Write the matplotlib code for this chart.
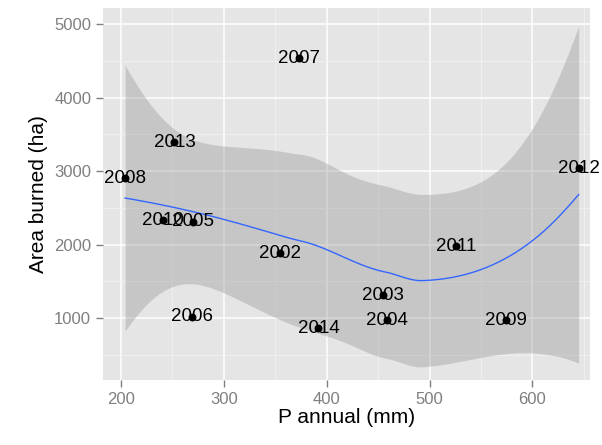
import numpy as np
import matplotlib
matplotlib.use('Agg')
import matplotlib.pyplot as plt
from math import lgamma

# Data
years = ['2008', '2013', '2007', '2010', '2005', '2002', '2006',
         '2014', '2003', '2004', '2011', '2009', '2012']
p_annual = [204, 252, 373, 241, 270, 355, 269, 392, 455, 459, 526, 574, 645]
area_burned = [2905, 3395, 4533, 2333, 2310, 1880, 1018, 860, 1313, 973, 1980, 973, 3037]

plt.rcParams['font.family'] = ['Liberation Sans', 'DejaVu Sans']

x = np.array(p_annual, dtype=float)
y = np.array(area_burned, dtype=float)
n = len(x)
SPAN = 1.0


def local_fit(x0):
    # local quadratic, tricube weights; returns rows for value and slope
    d = np.abs(x - x0)
    h = d.max() * SPAN * 1.0000001
    w = (1 - np.clip(d / h, 0, 1) ** 3) ** 3
    X = np.column_stack([np.ones(n), x - x0, (x - x0) ** 2])
    W = np.diag(w)
    A = np.linalg.pinv(X.T @ W @ X) @ X.T @ W
    return A[0], A[1]


# kd-tree style vertices + cubic Hermite interpolation (like loess surface='interpolate')
xs = np.sort(x)
fc = int(np.floor(n * SPAN * 0.2))
pad = 0.005 * (xs[-1] - xs[0])
verts = [xs[0] - pad, xs[-1] + pad]


def split(l, u):
    if u - l + 1 <= fc:
        return
    m = (l + u) // 2
    verts.append((xs[m] + xs[m + 1]) / 2)
    split(l, m)
    split(m + 1, u)


split(0, n - 1)
verts = np.array(sorted(verts))
vrows = [local_fit(v) for v in verts]


def interp_row(x0):
    i = min(max(np.searchsorted(verts, x0) - 1, 0), len(verts) - 2)
    v0, v1 = verts[i], verts[i + 1]
    dx = v1 - v0
    t = (x0 - v0) / dx
    h00 = 2 * t ** 3 - 3 * t ** 2 + 1
    h10 = t ** 3 - 2 * t ** 2 + t
    h01 = -2 * t ** 3 + 3 * t ** 2
    h11 = t ** 3 - t ** 2
    (a0, s0), (a1, s1) = vrows[i], vrows[i + 1]
    return h00 * a0 + h10 * dx * s0 + h01 * a1 + h11 * dx * s1


L = np.array([interp_row(v) for v in x])
IL = np.eye(n) - L
M = IL.T @ IL
one_delta = np.trace(M)
two_delta = np.trace(M @ M)
sigma = np.sqrt(np.sum((y - L @ y) ** 2) / one_delta)
df = one_delta ** 2 / two_delta


def t_quantile(p, nu):
    t = np.linspace(0, 20, 200001)
    c = np.exp(lgamma((nu + 1) / 2) - lgamma(nu / 2)) / np.sqrt(nu * np.pi)
    dens = c * (1 + t ** 2 / nu) ** (-(nu + 1) / 2)
    cdf = 0.5 + np.concatenate([[0], np.cumsum((dens[1:] + dens[:-1]) / 2 * np.diff(t))])
    return np.interp(p, cdf, t)


tq = t_quantile(0.975, df)

xg = np.linspace(x.min(), x.max(), 80)
Lg = np.array([interp_row(v) for v in xg])
yg = Lg @ y
se = sigma * np.sqrt(np.sum(Lg ** 2, axis=1))
lo = yg - tq * se
hi = yg + tq * se

fig = plt.figure(figsize=(6.02, 4.45), dpi=100)
ax = fig.add_axes([0.171, 0.146, 0.809, 0.836])
ax.set_facecolor('#E5E5E5')

ax.set_xlim(182.5, 656)
ax.set_ylim(157, 5218)
ax.set_xticks([200, 300, 400, 500, 600])
ax.set_yticks([1000, 2000, 3000, 4000, 5000])
ax.set_xticks([250, 350, 450, 550, 650], minor=True)
ax.set_yticks([500, 1500, 2500, 3500, 4500], minor=True)
ax.grid(True, which='major', color='white', linewidth=1.1)
ax.grid(True, which='minor', color='#F2F2F2', linewidth=0.6)
ax.set_axisbelow(True)
for s in ax.spines.values():
    s.set_visible(False)
ax.tick_params(which='major', length=5, color='#7F7F7F', labelcolor='#7F7F7F',
               labelsize=12, width=1)
ax.tick_params(which='minor', length=0)

ax.fill_between(xg, lo, hi, color='#999999', alpha=0.4, linewidth=0, zorder=2)
ax.plot(xg, yg, color='#3366FF', linewidth=1, zorder=3)
ax.scatter(x, y, s=22, color='black', zorder=4)
for xi, yi, lab in zip(x, y, years):
    ax.text(xi, yi, lab, ha='center', va='center', fontsize=13.5, color='black', zorder=5)

ax.set_xlabel('P annual (mm)', fontsize=15, labelpad=1)
ax.set_ylabel('Area burned (ha)', fontsize=15, labelpad=4)

fig.savefig('out.png', dpi=100)
plt.close()
